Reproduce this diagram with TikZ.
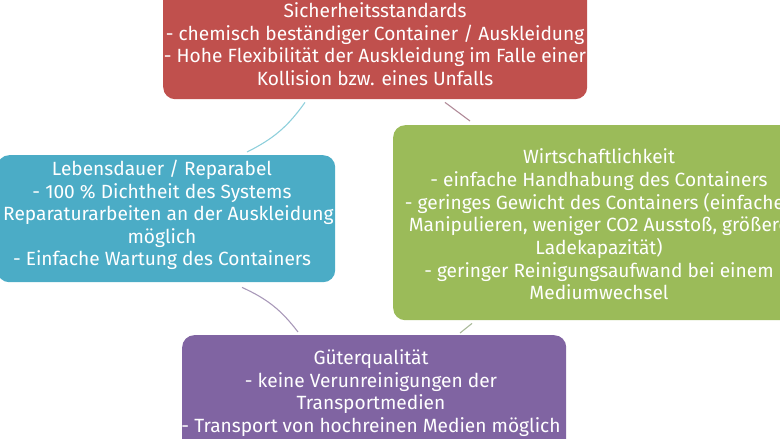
\documentclass[tikz,border=0pt]{standalone}
\usepackage{fontspec}
\setmainfont{Fira Sans}
\definecolor{cred}{HTML}{C0504D}
\definecolor{cblue}{HTML}{4BACC6}
\definecolor{cgreen}{HTML}{9BBB59}
\definecolor{cpurple}{HTML}{8064A2}
\definecolor{lcyan}{HTML}{8FD0DC}
\definecolor{lmauve}{HTML}{B08A98}
\definecolor{llav}{HTML}{A898B8}
\definecolor{lgreen}{HTML}{A8B898}
\tikzset{
  box/.style={rounded corners=12bp, inner sep=0pt, anchor=north west},
  txt/.style={text=white, align=center, font=\fontsize{19.2}{22.7}\selectfont, inner sep=0pt},
  conn/.style={line width=1.1pt},
}
\begin{document}
\begin{tikzpicture}[x=1bp,y=-1bp]
\useasboundingbox (0,0) rectangle (780,439);
\clip (0,0) rectangle (780,439);
% boxes
\node[box, fill=cred, minimum width=424bp, minimum height=115bp] (red) at (163,-16) {};
\node[box, fill=cblue, minimum width=338bp, minimum height=127bp] (blue) at (-3,155) {};
\node[box, fill=cgreen, minimum width=420bp, minimum height=195bp] (green) at (393,125) {};
\node[box, fill=cpurple, minimum width=384bp, minimum height=130bp] (purple) at (182,335) {};
% texts
\node[txt] (redt) at (375,44) {Sicherheitsstandards\\- chemisch beständiger Container / Auskleidung\\- Hohe Flexibilität der Auskleidung im Falle einer\\Kollision bzw. eines Unfalls};
\node[txt] (bluet) at (162,215) {Lebensdauer / Reparabel\\- 100 \% Dichtheit des Systems\\- Reparaturarbeiten an der Auskleidung\\möglich\\- Einfache Wartung des Containers};
\node[txt] (greent) at (599,224.5) {Wirtschaftlichkeit\\- einfache Handhabung des Containers\\- geringes Gewicht des Containers (einfaches\\Manipulieren, weniger CO2 Ausstoß, größere\\Ladekapazität)\\- geringer Reinigungsaufwand bei einem\\Mediumwechsel};
\node[txt] (purplet) at (371,393) {Güterqualität\\- keine Verunreinigungen der\\Transportmedien\\- Transport von hochreinen Medien möglich};
% connectors
\coordinate (rb1) at ([xshift=142bp,yshift=-3bp]red.south west);
\coordinate (rb2) at ([xshift=250bp,yshift=3bp]blue.north west);
\draw[conn, lcyan] (rb1) to[bend left=14] (rb2);
\coordinate (rg1) at ([xshift=282bp,yshift=-3bp]red.south west);
\coordinate (rg2) at ([xshift=77bp,yshift=4bp]green.north west);
\draw[conn, lmauve] (rg1) -- (rg2);
\coordinate (bp1) at ([xshift=245bp,yshift=-5bp]blue.south west);
\coordinate (bp2) at ([xshift=116bp,yshift=3bp]purple.north west);
\draw[conn, llav] (bp1) to[bend left=14] (bp2);
\coordinate (gp1) at ([xshift=79bp,yshift=-3bp]green.south west);
\coordinate (gp2) at ([xshift=278bp,yshift=2bp]purple.north west);
\draw[conn, lgreen] (gp1) -- (gp2);
\end{tikzpicture}
\end{document}
